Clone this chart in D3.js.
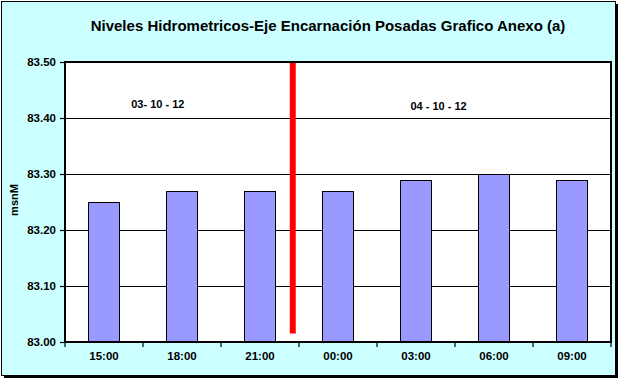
<!DOCTYPE html>
<html>
<head>
<meta charset="utf-8">
<script src="https://cdn.jsdelivr.net/npm/d3@7"></script>
<style>
  body { margin: 0; background: #fff; }
  text { font-family: "Liberation Sans", Arial, sans-serif; }
</style>
</head>
<body>
<svg id="chart" width="620" height="382"></svg>
<script>
// Data
const categories = ["15:00", "18:00", "21:00", "00:00", "03:00", "06:00", "09:00"];
const niveles = [83.25, 83.27, 83.27, 83.27, 83.29, 83.30, 83.29];
const yTicks = [83.0, 83.1, 83.2, 83.3, 83.4, 83.5];
const dateLabels = ["03- 10 - 12", "04 - 10 - 12"];
const title = "Niveles Hidrometricos-Eje Encarnación Posadas Grafico Anexo (a)";

// Plot area
const plotLeft = 65, plotRight = 611, plotTop = 62, plotBottom = 342;

const svg = d3.select("#chart");

// Outer frame with shadow
svg.append("rect")
  .attr("x", 4).attr("y", 4).attr("width", 614).attr("height", 374)
  .attr("fill", "#000");
svg.append("rect")
  .attr("x", 1.5).attr("y", 1.5).attr("width", 614).attr("height", 374)
  .attr("fill", "#ccffff").attr("stroke", "#000").attr("stroke-width", 1);

// Scales
const x = d3.scaleBand()
  .domain(categories)
  .range([plotLeft, plotRight])
  .paddingInner(0.6)
  .paddingOuter(0.3);
const xPos = d3.scaleLinear().domain([-0.5, categories.length - 0.5]).range([plotLeft, plotRight]);
const y = d3.scaleLinear().domain([83.0, 83.5]).range([plotBottom, plotTop]);

// Plot background
svg.append("rect")
  .attr("x", plotLeft).attr("y", plotTop)
  .attr("width", plotRight - plotLeft).attr("height", plotBottom - plotTop)
  .attr("fill", "#fff");

// Gridlines
svg.append("g")
  .selectAll("line")
  .data(yTicks.slice(1, -1))
  .enter()
  .append("line")
  .attr("x1", plotLeft).attr("x2", plotRight)
  .attr("y1", d => Math.round(y(d)) + 0.5)
  .attr("y2", d => Math.round(y(d)) + 0.5)
  .attr("stroke", "#000").attr("stroke-width", 1);

// Bars
svg.append("g")
  .selectAll("rect")
  .data(niveles)
  .enter()
  .append("rect")
  .attr("x", (d, i) => Math.round(x(categories[i])) + 0.5)
  .attr("y", d => Math.round(y(d)) + 0.5)
  .attr("width", Math.round(x.bandwidth()))
  .attr("height", d => plotBottom - Math.round(y(d)))
  .attr("fill", "#9999ff")
  .attr("stroke", "#000").attr("stroke-width", 1);

// Red separator between the two days
svg.append("line")
  .attr("x1", xPos(2.42)).attr("x2", xPos(2.42))
  .attr("y1", y(83.5)).attr("y2", y(83.015))
  .attr("stroke", "#ff0000").attr("stroke-width", 6);

// Plot frame
svg.append("rect")
  .attr("x", plotLeft).attr("y", plotTop)
  .attr("width", plotRight - plotLeft).attr("height", plotBottom - plotTop)
  .attr("fill", "none").attr("stroke", "#000").attr("stroke-width", 2);

// Y axis
const yAxis = svg.append("g")
  .attr("transform", `translate(${plotLeft},0)`)
  .call(d3.axisLeft(y).tickValues(yTicks).tickFormat(d3.format(".2f")).tickSize(5).tickPadding(4));
yAxis.select(".domain").remove();
yAxis.selectAll("line").attr("stroke", "#000").attr("stroke-width", 1.2);
yAxis.selectAll("text")
  .attr("font-size", 11.5).attr("font-weight", "bold").attr("fill", "#000")
  .attr("font-family", "Liberation Sans, Arial, sans-serif");

// X axis: labels centered, ticks at category boundaries
const xAxis = svg.append("g")
  .attr("transform", `translate(0,${plotBottom})`)
  .call(d3.axisBottom(x).tickSize(0).tickPadding(10));
xAxis.select(".domain").remove();
xAxis.selectAll("text")
  .attr("font-size", 11.5).attr("font-weight", "bold").attr("fill", "#000")
  .attr("font-family", "Liberation Sans, Arial, sans-serif");
svg.append("g")
  .selectAll("line")
  .data(d3.range(categories.length + 1))
  .enter()
  .append("line")
  .attr("x1", d => xPos(d - 0.5)).attr("x2", d => xPos(d - 0.5))
  .attr("y1", plotBottom).attr("y2", plotBottom + 5)
  .attr("stroke", "#000").attr("stroke-width", 1.2);

// Date annotations
svg.append("text")
  .attr("x", xPos(0.69)).attr("y", y(83.418))
  .attr("text-anchor", "middle")
  .attr("font-size", 11).attr("font-weight", "bold")
  .text(dateLabels[0]);
svg.append("text")
  .attr("x", xPos(4.29)).attr("y", y(83.414))
  .attr("text-anchor", "middle")
  .attr("font-size", 11).attr("font-weight", "bold")
  .text(dateLabels[1]);

// Y axis title
svg.append("text")
  .attr("transform", "translate(18,200) rotate(-90)")
  .attr("text-anchor", "middle")
  .attr("font-size", 11).attr("font-weight", "bold")
  .text("msnM");

// Title
svg.append("text")
  .attr("x", 328).attr("y", 31)
  .attr("text-anchor", "middle")
  .attr("font-size", 15).attr("font-weight", "bold")
  .text(title);
</script>
</body>
</html>
